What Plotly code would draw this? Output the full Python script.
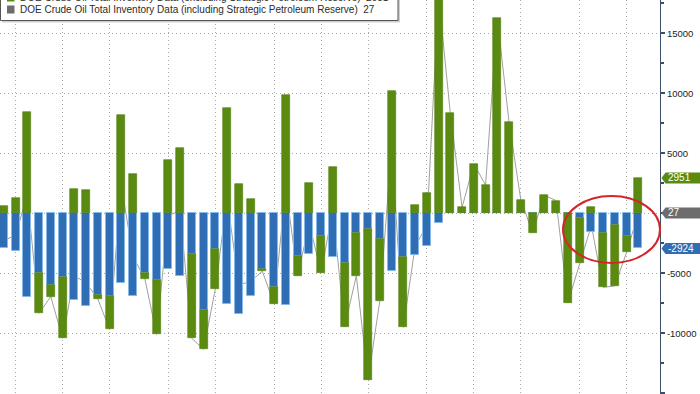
import plotly.graph_objects as go

weeks = [
    "2022-04-22", "2022-04-29", "2022-05-06", "2022-05-13", "2022-05-20", "2022-05-27",
    "2022-06-03", "2022-06-10", "2022-06-17", "2022-06-24", "2022-07-01", "2022-07-08",
    "2022-07-15", "2022-07-22", "2022-07-29", "2022-08-05", "2022-08-12", "2022-08-19",
    "2022-08-26", "2022-09-02", "2022-09-09", "2022-09-16", "2022-09-23", "2022-09-30",
    "2022-10-07", "2022-10-14", "2022-10-21", "2022-10-28", "2022-11-04", "2022-11-11",
    "2022-11-18", "2022-11-25", "2022-12-02", "2022-12-09", "2022-12-16", "2022-12-23",
    "2022-12-30", "2023-01-06", "2023-01-13", "2023-01-20", "2023-01-27", "2023-02-03",
    "2023-02-10", "2023-02-17", "2023-02-24", "2023-03-03", "2023-03-10", "2023-03-17",
    "2023-03-24", "2023-03-31", "2023-04-07", "2023-04-14", "2023-04-21", "2023-04-28",
    "2023-05-05",
]

# Commercial crude change (excluding SPR), thousand barrels
commercial = [
    650, 1280, 8470, -3330, -970, -5080,
    2000, 1940, -330, -2780, 8170, 3250,
    -440, -4530, 4440, 5470, -7030, -3280,
    -3330, 8810, 2440, 1170, -150, -1390,
    9830, -1670, 2560, -3060, 3890, -5330,
    -3610, -12560, -5140, 10220, -5830, 720,
    1720, 18960, 8330, 500, 4110, 2360,
    16250, 7580, 1110, -1610, 1500, 1060,
    -7440, -3750, 560, -4500, -5080, -1360,
    2951,
]

# Strategic Petroleum Reserve change, thousand barrels
spr = [
    -2917, -3110, -6940, -5000, -5970, -5330,
    -7220, -7720, -6800, -6890, -5830, -6860,
    -5000, -5560, -4670, -5220, -3390, -8060,
    -3000, -7560, -8390, -6860, -4670, -6170,
    -7640, -3560, -3390, -1890, -3610, -4110,
    -1610, -1330, -2140, -4780, -3670, -3500,
    -2720, -830, 0, 0, 0, 0,
    0, 0, 0, 0, 0, 0,
    0, -420, -1580, -1670, -970, -1890,
    -2924,
]

total = [c + s for c, s in zip(commercial, spr)]

month_grid = ["2022-04-29", "2022-05-27", "2022-06-24", "2022-07-29", "2022-08-26",
              "2022-09-30", "2022-10-28", "2022-11-25", "2022-12-30", "2023-01-27",
              "2023-02-24", "2023-03-31", "2023-04-28"]

y_ticks = [-15000, -10000, -5000, 0, 5000, 10000, 15000]
y_ticktext = ["-15000", "-10000", "-5000", "", "5000", "10000", "15000"]

label_excl = "DOE Crude Oil Total Inventory Data (excluding Strategic Petroleum Reserve)  " + str(commercial[-1])
label_incl = "DOE Crude Oil Total Inventory Data (including Strategic Petroleum Reserve)  " + str(total[-1])

GREEN = "#5a8a10"
BLUE = "#2f6db5"
GRAY = "#6d6d6d"
LINE = "#a0a0a0"
GRID = "#a8a8a8"

W, H = 700, 394
PW = 660  # plot area width in px
YR = [-15058, 17775]
X_RANGE = ["2022-04-19 17:45", "2023-05-17 21:30"]
BAR_W = 4.77 * 86400000

fig = go.Figure()

fig.add_trace(go.Scatter(
    x=weeks, y=total, mode="lines", line=dict(color=LINE, width=1),
    name="Total", showlegend=False, hoverinfo="skip", xaxis="x", yaxis="y"))

fig.add_trace(go.Bar(
    x=weeks, y=spr, width=BAR_W, name="SPR",
    marker=dict(color=BLUE, line=dict(color="#86b8ea", width=1)),
    showlegend=False, xaxis="x", yaxis="y2"))

fig.add_trace(go.Bar(
    x=weeks, y=commercial, width=BAR_W, name="Commercial",
    marker=dict(color=GREEN, line=dict(color="#4f7d0c", width=0.6)),
    showlegend=False, xaxis="x", yaxis="y2"))


def px(x):
    return x / PW


def py(y):
    return 1 - y / H


shapes = []
annotations = []

# value tags on right axis
per_px = (YR[1] - YR[0]) / H
half = 5.5 * per_px
for val, col in [(commercial[-1], GREEN), (total[-1], GRAY), (spr[-1], BLUE)]:
    path = (f"M {px(661.5)},{val} L {px(665.5)},{val + half} L {px(702)},{val + half} "
            f"L {px(702)},{val - half} L {px(665.5)},{val - half} Z")
    shapes.append(dict(type="path", xref="paper", yref="y", path=path,
                       fillcolor=col, line=dict(width=0), layer="above"))
    annotations.append(dict(xref="paper", yref="y", x=px(666), y=val, xanchor="left",
                            yanchor="middle", text=str(val), showarrow=False,
                            font=dict(family="Liberation Sans", size=10, color="white")))

# red ellipse highlight
shapes.append(dict(type="circle", xref="paper", yref="paper",
                   x0=px(563), x1=px(660), y0=py(196), y1=py(263),
                   line=dict(color="#d3262b", width=2), layer="above"))

# legend box
shapes.append(dict(type="rect", xref="paper", yref="paper",
                   x0=px(2), x1=px(400), y0=py(-6), y1=py(22.5),
                   fillcolor="#cfcfcf", line=dict(width=0), layer="above"))
shapes.append(dict(type="rect", xref="paper", yref="paper",
                   x0=px(0.5), x1=px(398), y0=py(-6), y1=py(20.5),
                   fillcolor="white", line=dict(color="#555555", width=1), layer="above"))
for cy, col, txt in [(-2.5, GREEN, label_excl), (9.5, GRAY, label_incl)]:
    shapes.append(dict(type="rect", xref="paper", yref="paper",
                       x0=px(7), x1=px(14.5), y0=py(cy - 4), y1=py(cy + 4),
                       fillcolor=col, line=dict(width=0), layer="above"))
    annotations.append(dict(xref="paper", yref="paper", x=px(18), y=py(cy),
                            xanchor="left", yanchor="middle", text=txt, showarrow=False,
                            font=dict(family="Liberation Sans", size=10, color="#2a2a2a")))

fig.update_layout(
    width=W, height=H,
    margin=dict(l=0, r=W - PW, t=0, b=0),
    paper_bgcolor="white", plot_bgcolor="white",
    barmode="relative", bargap=0,
    showlegend=False,
    shapes=shapes, annotations=annotations,
    xaxis=dict(type="date", range=X_RANGE, showticklabels=False, ticks="",
               tickmode="array", tickvals=month_grid,
               showgrid=True, gridcolor=GRID, griddash="1px,3px", gridwidth=1,
               zeroline=False, showline=False),
    yaxis=dict(range=YR, side="right", tickmode="array", tickvals=y_ticks,
               ticktext=y_ticktext, ticks="outside", ticklen=4, tickwidth=1.5,
               tickcolor="#3d4f6a",
               minor=dict(tickmode="linear", tick0=0, dtick=2500, ticks="outside",
                          ticklen=3, tickcolor="#3d4f6a", showgrid=False),
               showgrid=True, gridcolor=GRID, griddash="1px,3px", gridwidth=1,
               zeroline=False, showline=True, linecolor="#3d4f6a", linewidth=1,
               tickfont=dict(family="Liberation Sans", size=9.5, color="#222222")),
    yaxis2=dict(range=YR, overlaying="y", side="right", visible=False,
                showgrid=False, zeroline=False),
)

fig.write_html("out.html", config={"displayModeBar": False},
               post_script="document.body.style.margin='0';")
